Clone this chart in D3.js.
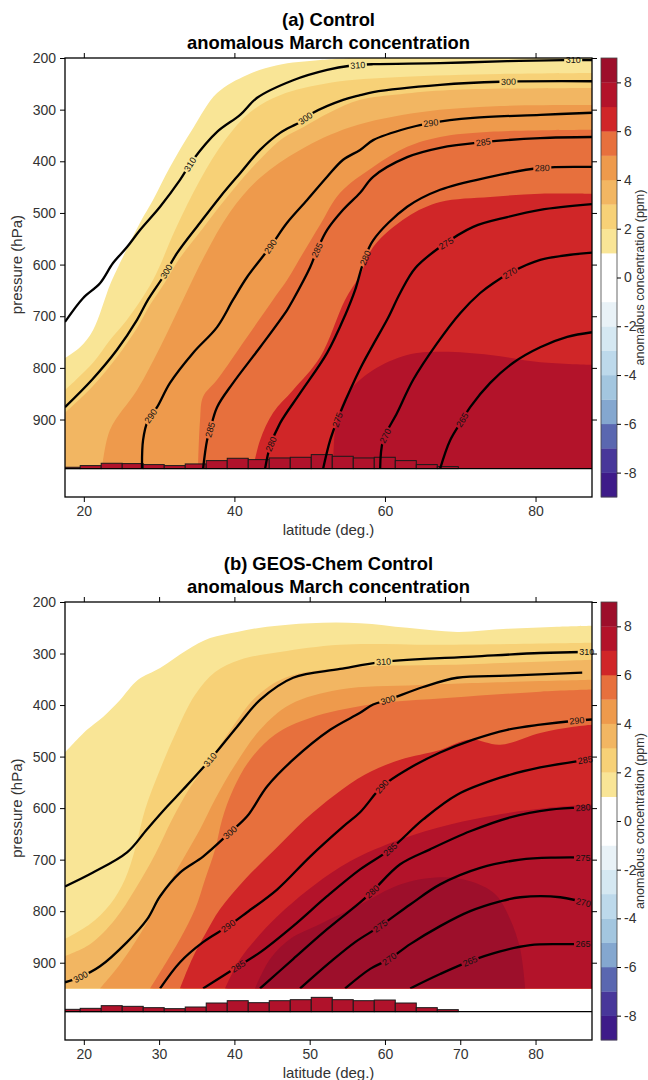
<!DOCTYPE html>
<html>
<head>
<meta charset="utf-8">
<script src="https://cdn.jsdelivr.net/npm/d3@7"></script>
<style>
  body { margin: 0; background: #fff; }
  svg { display: block; }
  text { font-family: "Liberation Sans", Arial, Helvetica, sans-serif; }
</style>
</head>
<body>
<svg id="chart" width="648" height="1080"></svg>
<script>
// ---------------- data ----------------
const latRange = [17.5, 87.5];          // deg N
const presRange = [200, 1050];          // hPa (top, bottom of frame)
const histBase = 995;                   // hPa, baseline of the latitude histogram

const pressureTicks = [200, 300, 400, 500, 600, 700, 800, 900];
const latTicksA = [20, 40, 60, 80];
const latTicksB = [20, 30, 40, 50, 60, 70, 80];

// colour bar: 18 one-ppm bands from -9 to 9
const colorbarLevels = [-9, -8, -7, -6, -5, -4, -3, -2, -1, 0, 1, 2, 3, 4, 5, 6, 7, 8, 9];
const colorbarColors = ["#3e1b89", "#48379a", "#5a67b0", "#84a7cf", "#a3c6df", "#bdd9eb",
                        "#d5e8f2", "#e9f2f7", "#ffffff", "#ffffff", "#f9e596", "#f7d177",
                        "#f2b662", "#ee9a4c", "#e7703d", "#d02628", "#b3132a", "#9d0f2b"];
const colorbarTicks = [-8, -6, -4, -2, 0, 2, 4, 6, 8];

// latitude histogram (left bin edges, bin width in deg)
const histEdges = [16.73, 19.52, 22.31, 25.10, 27.89, 30.68, 33.47, 36.26, 39.05, 41.84,
                   44.63, 47.42, 50.21, 53.00, 55.79, 58.58, 61.37, 64.16, 66.95];
const histWidth = 2.79;
const histCountsA = [4, 9, 16, 15, 12, 9, 14, 24, 31, 27, 32, 34, 42, 37, 32, 34, 24, 12, 6];
const histCountsB = [7, 10, 18, 16, 12, 9, 14, 26, 33, 27, 33, 36, 43, 36, 33, 35, 26, 12, 6];

// isentrope levels (K)
const thetaLevels = [310, 300, 290, 285, 280, 275, 270, 265];

// ---- panel (a): lower bounds of the filled anomaly bands, [lat, hPa] ----
const ctrlFill1 = [[17.5,781],[19.49,760],[21.22,727],[23.48,639],[24.54,605],[27.47,519],[29.19,475],[31.45,411],[34.51,336],[37.70,268],[41.69,233],[45.67,214],[51.39,204],[55.4,200]];
const ctrlFill2 = [[17.5,843],[21.22,790],[23.48,746],[25.74,707],[29.19,630],[32.12,533],[35.44,436],[38.76,359],[42.08,305],[46.07,272],[52.72,248],[62.02,237],[75.31,231],[87.5,229]];
const ctrlFill3 = [[17.5,887],[21.09,837],[24.41,779],[27.07,723],[28.80,678],[30.79,634],[32.78,587],[35.84,529],[38.50,479],[41.16,432],[43.81,390],[46.47,355],[49.13,334],[52.72,305],[56.70,281],[62.02,270],[68.66,262],[87.5,258]];
const ctrlFill4 = [[22.42,995],[23.48,920],[27.07,843],[30.13,760],[33.18,668],[36.11,581],[39.43,498],[43.41,432],[48.73,378],[55.37,334],[64.68,305],[75.31,293],[87.5,291]];
const ctrlFill5 = [[35.17,995],[35.44,901],[35.84,856],[37.70,823],[41.69,740],[45.14,668],[47.00,630],[48.99,581],[51.39,523],[54.04,461],[58.43,411],[62.95,372],[67.33,353],[73.98,343],[87.5,339]];
const ctrlFill6 = [[42.48,995],[43.41,940],[45.14,887],[47.80,843],[51.39,779],[54.71,668],[56.70,620],[58.43,566],[62.95,508],[67.33,479],[73.98,469],[80.62,463],[87.5,463]];
const ctrlFill7 = [[53.11,995],[53.38,920],[54.04,881],[55.37,843],[58.43,804],[62.95,775],[67.33,769],[73.98,775],[80.62,789],[87.5,794]];

// ---- panel (a): isentropes, [lat, hPa] ----
const ctrlTheta310 = [[17.5,711],[19.89,665],[22.15,636],[23.88,597],[25.74,566],[27.47,533],[30.13,488],[32.78,436],[34.51,397],[37.70,343],[40.76,310],[43.02,277],[47.80,243],[52.32,223],[55.37,215],[58.43,212],[67.33,210],[76.24,206],[83.68,204],[87.5,204]];
const ctrlTheta300 = [[17.5,876],[21.09,823],[24.41,765],[27.07,707],[28.53,668],[30.52,624],[32.38,578],[35.44,519],[38.10,469],[40.76,423],[43.41,378],[46.07,345],[48.73,324],[50.46,306],[54.44,281],[56.70,272],[58.43,266],[67.33,252],[75.31,246],[87.5,245]];
const ctrlTheta290 = [[27.73,995],[27.87,940],[28.53,901],[29.73,876],[31.45,829],[34.51,771],[37.70,721],[39.83,668],[41.69,624],[44.74,566],[47.00,519],[49.66,475],[52.32,430],[54.44,397],[56.70,378],[58.43,359],[62.95,336],[66.00,326],[71.72,316],[80.62,310],[87.5,306]];
const ctrlTheta285 = [[35.84,995],[36.37,940],[36.77,920],[37.70,876],[39.83,829],[43.41,760],[47.00,688],[47.80,668],[50.06,605],[50.99,572],[52.32,533],[54.44,494],[56.70,461],[58.43,430],[62.95,392],[67.33,374],[73.05,363],[80.62,355],[87.5,353]];
const ctrlTheta280 = [[44.08,995],[44.74,952],[46.07,907],[48.73,849],[52.32,771],[54.71,698],[56.04,649],[57.10,597],[58.43,553],[62.95,488],[67.33,455],[73.98,430],[80.62,413],[87.5,411]];
const ctrlTheta275 = [[51.79,995],[52.72,940],[53.78,897],[55.37,843],[56.97,794],[58.43,755],[60.42,703],[62.02,655],[64.01,607],[67.33,566],[71.72,527],[76.24,508],[80.62,494],[87.5,483]];
const ctrlTheta270 = [[59.36,995],[59.76,940],[61.62,887],[63.75,823],[66.94,752],[69.99,694],[72.65,655],[74.38,636],[76.64,616],[80.62,591],[87.5,577]];
const ctrlTheta265 = [[67.33,995],[68.66,940],[70.26,901],[71.32,876],[73.98,829],[77.04,790],[80.62,760],[84.21,740],[87.5,731]];

// label anchors on the panel (a) isentropes
const ctrlLabels310 = [[33.8,403],[56.4,214],[85.0,204]];
const ctrlLabels300 = [[30.8,612],[49.4,316],[76.4,246]];
const ctrlLabels290 = [[29.06,895],[44.9,566],[66.1,326]];
const ctrlLabels285 = [[36.8,920],[51.0,572],[73.05,363]];
const ctrlLabels280 = [[44.5,945],[57.1,585],[80.9,413]];
const ctrlLabels275 = [[53.8,901],[68.0,556]];
const ctrlLabels270 = [[60.4,934],[76.6,616]];
const ctrlLabels265 = [[70.3,901]];

// ---- panel (b): lower bounds of the filled anomaly bands ----
const geosFill1 = [[17.5,492],[20.42,448],[22.55,423],[24.81,390],[27.20,351],[30.13,328],[33.71,293],[36.77,270],[40.36,258],[44.34,248],[50.06,241],[56.70,241],[62.95,250],[69.59,258],[76.24,252],[82.88,248],[87.5,246]];
const geosFill2 = [[17.5,854],[20.82,825],[23.48,787],[25.47,738],[26.80,680],[28.13,603],[30.13,525],[32.12,457],[34.78,380],[37.44,336],[40.76,312],[46.07,297],[54.04,283],[67.33,283],[87.5,279]];
const geosFill3 = [[17.5,887],[20.82,864],[24.14,816],[26.80,758],[29.46,690],[31.72,622],[34.11,560],[36.77,506],[39.69,444],[42.75,386],[46.74,347],[54.04,328],[68.66,322],[87.5,312]];
const geosFill4 = [[22.15,950],[24.81,903],[27.47,845],[30.13,777],[32.78,709],[35.44,641],[37.44,583],[40.10,516],[43.41,448],[47.40,399],[54.04,370],[64.68,361],[87.5,351]];
const geosFill5 = [[28.80,950],[30.79,903],[32.78,854],[34.78,796],[36.11,738],[37.44,680],[38.37,622],[39.83,564],[42.08,506],[45.41,457],[50.06,425],[58.04,399],[68.66,386],[80.62,374],[87.5,370]];
const geosFill6 = [[32.78,950],[34.38,893],[36.11,845],[38.10,796],[41.42,738],[45.41,680],[49.39,622],[53.38,574],[57.36,535],[62.02,506],[67.33,487],[71.32,467],[75.31,477],[80.62,454],[85.01,442],[87.5,438]];
const geosFill7 = [[38.76,950],[40.76,893],[43.41,845],[46.74,796],[50.72,748],[55.37,703],[62.02,661],[68.66,632],[75.31,612],[81.95,599],[87.5,593]];
const geosFill8 = [[42.75,950],[44.74,893],[47.40,854],[51.39,825],[56.70,787],[62.02,748],[67.33,734],[71.32,742],[74.65,767],[76.64,816],[77.97,874],[78.63,950]];

// ---- panel (b): isentropes ----
const geosTheta310 = [[17.5,752],[21.22,725],[25.74,686],[28.40,641],[31.06,597],[33.18,564],[36.77,506],[40.36,442],[43.41,390],[47.80,347],[54.04,330],[59.76,316],[71.72,306],[80.62,299],[86.20,297],[87.5,297]];
const geosTheta300 = [[17.5,938],[19.49,928],[22.15,907],[25.74,860],[28.40,816],[30.13,771],[32.78,725],[35.84,694],[39.43,647],[41.69,616],[44.34,558],[47.80,506],[52.72,448],[56.70,415],[58.43,399],[60.42,390],[65.07,365],[69.59,347],[76.24,343],[86.20,337]];
const geosTheta290 = [[30.13,950],[32.78,899],[35.84,860],[39.16,829],[41.69,802],[45.67,758],[50.06,694],[54.44,636],[56.70,608],[59.63,558],[62.95,525],[67.33,492],[71.72,467],[76.24,448],[80.62,438],[85.54,430],[87.5,428]];
const geosTheta285 = [[35.84,950],[40.49,907],[43.41,880],[47.80,829],[52.32,771],[56.70,719],[60.69,680],[65.07,622],[69.59,574],[75.31,541],[80.62,521],[86.87,506],[87.5,504]];
const geosTheta280 = [[43.41,950],[47.80,893],[52.32,835],[56.70,783],[58.30,762],[62.02,709],[66.00,680],[71.32,645],[76.64,618],[81.95,603],[86.34,599],[87.5,599]];
const geosTheta275 = [[48.73,950],[52.72,899],[56.04,860],[59.36,829],[63.35,787],[67.33,748],[72.65,716],[77.97,700],[82.62,696],[87.5,696]];
const geosTheta270 = [[54.71,950],[58.04,912],[60.56,893],[63.35,864],[67.33,829],[71.32,800],[75.31,781],[77.97,773],[83.28,773],[87.5,787]];
const geosTheta265 = [[63.35,950],[67.33,922],[71.32,897],[75.31,878],[79.29,866],[83.28,864],[87.5,864]];

const geosLabels310 = [[36.8,506],[59.8,316],[86.8,297]];
const geosLabels300 = [[19.6,928],[39.4,647],[60.4,390]];
const geosLabels290 = [[39.2,829],[59.6,558],[85.5,430]];
const geosLabels285 = [[40.5,907],[60.7,680],[86.6,506]];
const geosLabels280 = [[58.3,762],[86.3,599]];
const geosLabels275 = [[59.4,829],[86.3,696]];
const geosLabels270 = [[60.6,893],[86.3,787]];
const geosLabels265 = [[71.3,897],[86.3,864]];

// ---------------- drawing ----------------
const svg = d3.select("#chart");
const defs = svg.append("defs");
const plotLeft = 65, plotRight = 592;
const cbLeft = 601, cbWidth = 16;

const bandColor = lvl => colorbarColors[colorbarLevels.indexOf(lvl)];

function edgeOf([lat, p]) {
  if (lat <= latRange[0] + 0.05) return 3;
  if (lat >= latRange[1] - 0.05) return 1;
  if (p <= presRange[0] + 0.5) return 0;
  return 2;
}

function labelPlacement(pix, tx, ty) {
  let best = null;
  for (let i = 0; i < pix.length - 1; i++) {
    const [x1, y1] = pix[i], [x2, y2] = pix[i + 1];
    const dx = x2 - x1, dy = y2 - y1, l2 = dx * dx + dy * dy;
    let t = l2 ? ((tx - x1) * dx + (ty - y1) * dy) / l2 : 0;
    t = Math.max(0, Math.min(1, t));
    const px = x1 + t * dx, py = y1 + t * dy;
    const d = (px - tx) ** 2 + (py - ty) ** 2;
    if (!best || d < best.d) best = { d, px, py, ang: Math.atan2(dy, dx) * 180 / Math.PI };
  }
  let a = best.ang;
  if (a > 90) a -= 180;
  if (a < -90) a += 180;
  return { x: best.px, y: best.py, a };
}

function drawPanel(cfg) {
  const x = d3.scaleLinear(latRange, [plotLeft, plotRight]);
  const y = d3.scaleLinear(presRange, [cfg.top, cfg.bottom]);
  const id = cfg.id;
  const g = svg.append("g");

  // titles
  g.append("text").attr("x", (plotLeft + plotRight) / 2).attr("y", cfg.top - 32)
    .attr("text-anchor", "middle").attr("font-size", 18.4).attr("font-weight", "bold")
    .text(cfg.title);
  g.append("text").attr("x", (plotLeft + plotRight) / 2).attr("y", cfg.top - 9)
    .attr("text-anchor", "middle").attr("font-size", 18.4).attr("font-weight", "bold")
    .text("anomalous March concentration");

  defs.append("clipPath").attr("id", id + "-field").append("rect")
    .attr("x", x(latRange[0])).attr("y", y(presRange[0]))
    .attr("width", x(latRange[1]) - x(latRange[0]))
    .attr("height", y(cfg.fieldBottom) - y(presRange[0]));
  defs.append("clipPath").attr("id", id + "-plot").append("rect")
    .attr("x", x(latRange[0])).attr("y", y(presRange[0]))
    .attr("width", x(latRange[1]) - x(latRange[0]))
    .attr("height", y(presRange[1]) - y(presRange[0]));

  const line = d3.line().x(d => x(d[0])).y(d => y(d[1])).curve(d3.curveCatmullRom.alpha(0.5));

  // filled anomaly bands, drawn from the weakest level upwards
  const outer = [[100, 100], [100, 1100], [0, 1100], [0, 100]]; // corners after top, right, bottom, left
  const fillG = g.append("g").attr("clip-path", `url(#${id}-field)`);
  cfg.fills.forEach(f => {
    const pts = f.pts;
    let e = edgeOf(pts[pts.length - 1]);
    const s = edgeOf(pts[0]);
    let d = line(pts);
    let guard = 0;
    while (e !== s && guard++ < 4) {
      const c = outer[e];
      d += `L${x(c[0])},${y(c[1])}`;
      e = (e + 1) % 4;
    }
    fillG.append("path").attr("d", d + "Z").attr("fill", bandColor(f.level));
  });

  // latitude histogram
  const histY = d3.scaleLinear([0, 43], [0, 14.3]);
  const histG = g.append("g").attr("clip-path", `url(#${id}-plot)`);
  histG.selectAll("rect").data(cfg.hist).join("rect")
    .attr("x", (d, i) => x(histEdges[i]))
    .attr("width", x(histEdges[0] + histWidth) - x(histEdges[0]))
    .attr("y", d => y(histBase) - histY(d))
    .attr("height", d => histY(d))
    .attr("fill", "#b0122b").attr("stroke", "#1a1a1a").attr("stroke-width", 1);
  g.append("line").attr("x1", plotLeft).attr("x2", plotRight)
    .attr("y1", y(histBase)).attr("y2", y(histBase))
    .attr("stroke", "#000").attr("stroke-width", 1.3);

  // isentropes with labels cut into the lines
  const mask = defs.append("mask").attr("id", id + "-mask")
    .attr("maskUnits", "userSpaceOnUse").attr("x", 0).attr("y", 0).attr("width", 648).attr("height", 1080);
  mask.append("rect").attr("width", 648).attr("height", 1080).attr("fill", "#fff");
  const lineG = g.append("g").attr("clip-path", `url(#${id}-field)`)
    .append("g").attr("mask", `url(#${id}-mask)`);
  const labelG = g.append("g");
  cfg.contours.forEach(c => {
    lineG.append("path").attr("d", line(c.pts)).attr("fill", "none")
      .attr("stroke", "#000").attr("stroke-width", 2.3).attr("stroke-linejoin", "round");
    const pix = c.pts.map(p => [x(p[0]), y(p[1])]);
    c.labels.forEach(l => {
      const pl = labelPlacement(pix, x(l[0]), y(l[1]));
      const t = `translate(${pl.x},${pl.y}) rotate(${pl.a})`;
      mask.append("rect").attr("x", -9).attr("y", -4.5).attr("width", 18).attr("height", 9)
        .attr("transform", t).attr("fill", "#000");
      labelG.append("text").attr("transform", t).attr("text-anchor", "middle")
        .attr("dy", "0.35em").attr("font-size", 9).attr("fill", "#111").text(c.level);
    });
  });

  // frame and axes
  g.append("rect").attr("x", plotLeft).attr("y", cfg.top)
    .attr("width", plotRight - plotLeft).attr("height", cfg.bottom - cfg.top)
    .attr("fill", "none").attr("stroke", "#000").attr("stroke-width", 1.3);

  const styleAxis = sel => {
    sel.select(".domain").remove();
    sel.selectAll("line").attr("stroke", "#000").attr("stroke-width", 1);
    sel.selectAll("text").attr("font-size", 14).attr("fill", "#333")
      .attr("font-family", '"Liberation Sans", Arial, sans-serif');
  };
  g.append("g").attr("transform", `translate(${plotLeft},0)`)
    .call(d3.axisLeft(y).tickValues(pressureTicks).tickSize(5).tickPadding(4)).call(styleAxis);
  g.append("g").attr("transform", `translate(${plotRight},0)`)
    .call(d3.axisRight(y).tickValues(pressureTicks).tickSize(5).tickFormat("")).call(styleAxis);
  g.append("g").attr("transform", `translate(0,${cfg.top})`)
    .call(d3.axisTop(x).tickValues(cfg.latTicks).tickSize(5).tickFormat("")).call(styleAxis);
  g.append("g").attr("transform", `translate(0,${cfg.bottom})`)
    .call(d3.axisBottom(x).tickValues(cfg.latTicks).tickSize(5).tickPadding(4)).call(styleAxis);

  g.append("text").attr("transform", `translate(22,${(y(200) + y(1000)) / 2}) rotate(-90)`)
    .attr("text-anchor", "middle").attr("font-size", 15).attr("fill", "#333").text("pressure (hPa)");
  g.append("text").attr("x", (plotLeft + plotRight) / 2).attr("y", cfg.bottom + 38)
    .attr("text-anchor", "middle").attr("font-size", 15).attr("fill", "#333").text("latitude (deg.)");

  // colour bar
  const cy = d3.scaleLinear([-9, 9], [cfg.bottom, cfg.top]);
  const cb = g.append("g");
  cb.selectAll("rect").data(colorbarColors).join("rect")
    .attr("x", cbLeft).attr("width", cbWidth)
    .attr("y", (d, i) => cy(colorbarLevels[i + 1]))
    .attr("height", (d, i) => cy(colorbarLevels[i]) - cy(colorbarLevels[i + 1]) + 0.3)
    .attr("fill", d => d);
  cb.append("rect").attr("x", cbLeft).attr("y", cfg.top).attr("width", cbWidth)
    .attr("height", cfg.bottom - cfg.top).attr("fill", "none").attr("stroke", "#444").attr("stroke-width", 0.8);
  g.append("g").attr("transform", `translate(${cbLeft + cbWidth},0)`)
    .call(d3.axisRight(cy).tickValues(colorbarTicks).tickSize(4).tickPadding(3).tickFormat(d => String(d)))
    .call(styleAxis);
  g.append("text").attr("transform", `translate(644,${(cfg.top + cfg.bottom) / 2}) rotate(-90)`)
    .attr("text-anchor", "middle").attr("font-size", 12.5).attr("fill", "#333")
    .text("anomalous concentration (ppm)");
}

const ctrlContours = [ctrlTheta310, ctrlTheta300, ctrlTheta290, ctrlTheta285, ctrlTheta280, ctrlTheta275, ctrlTheta270, ctrlTheta265];
const ctrlLabelSets = [ctrlLabels310, ctrlLabels300, ctrlLabels290, ctrlLabels285, ctrlLabels280, ctrlLabels275, ctrlLabels270, ctrlLabels265];
const geosContours = [geosTheta310, geosTheta300, geosTheta290, geosTheta285, geosTheta280, geosTheta275, geosTheta270, geosTheta265];
const geosLabelSets = [geosLabels310, geosLabels300, geosLabels290, geosLabels285, geosLabels280, geosLabels275, geosLabels270, geosLabels265];

drawPanel({
  id: "ctrl", title: "(a) Control", top: 58, bottom: 497, fieldBottom: 995,
  latTicks: latTicksA, hist: histCountsA,
  fills: [ctrlFill1, ctrlFill2, ctrlFill3, ctrlFill4, ctrlFill5, ctrlFill6, ctrlFill7]
    .map((pts, i) => ({ level: i + 1, pts })),
  contours: thetaLevels.map((lv, i) => ({ level: lv, pts: ctrlContours[i], labels: ctrlLabelSets[i] }))
});

drawPanel({
  id: "geos", title: "(b) GEOS-Chem Control", top: 602, bottom: 1040, fieldBottom: 950,
  latTicks: latTicksB, hist: histCountsB,
  fills: [geosFill1, geosFill2, geosFill3, geosFill4, geosFill5, geosFill6, geosFill7, geosFill8]
    .map((pts, i) => ({ level: i + 1, pts })),
  contours: thetaLevels.map((lv, i) => ({ level: lv, pts: geosContours[i], labels: geosLabelSets[i] }))
});
</script>
</body>
</html>
